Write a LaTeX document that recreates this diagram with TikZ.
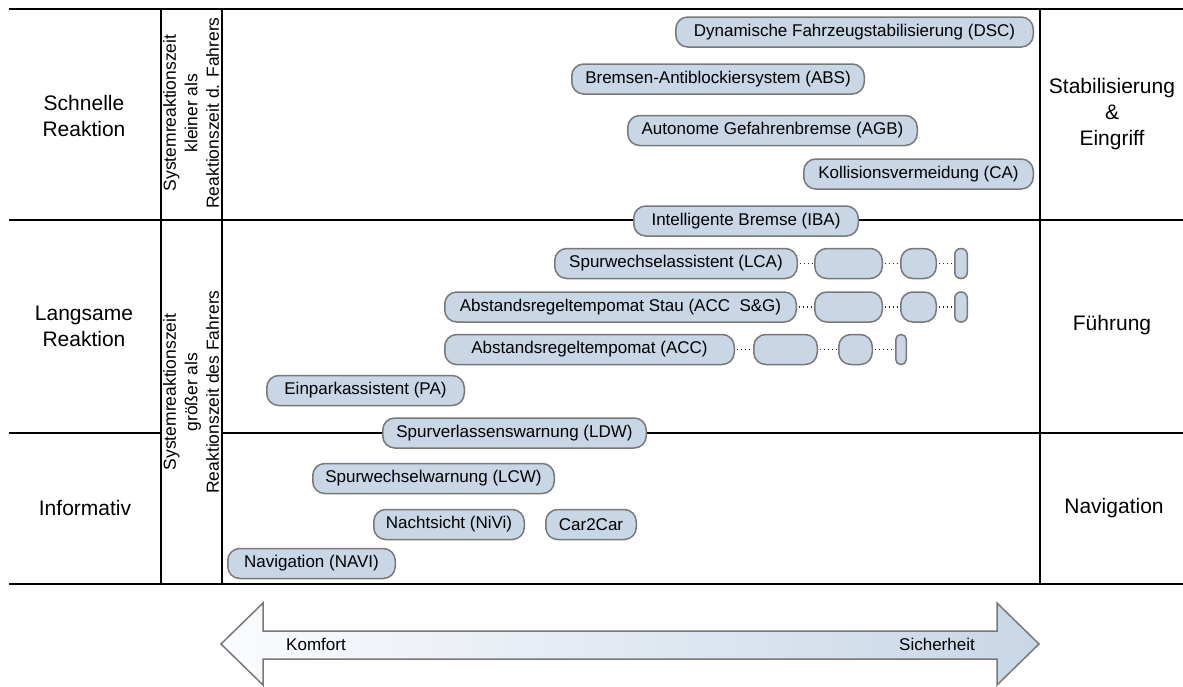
\documentclass[tikz,border=0pt]{standalone}
\usepackage{fontspec}
\setmainfont{Liberation Sans}
\definecolor{boxblue}{RGB}{200,214,230}
\definecolor{boxedge}{RGB}{120,120,120}
\definecolor{arrowleft}{RGB}{250,251,253}
\tikzset{
  gridline/.style={line width=1.3pt, black},
  sys/.style={draw=boxedge, line width=1.5pt, fill=boxblue, rounded corners=12pt,
    minimum height=30pt, inner sep=0pt, font=\fontsize{17}{20}\selectfont},
  sidelabel/.style={align=center, font=\fontsize{21}{26}\selectfont},
  rotlabel/.style={align=center, rotate=90, font=\fontsize{17.5}{21.5}\selectfont},
  dotconn/.style={line width=1.4pt, black!85, dash pattern=on 1.3pt off 2.6pt, shorten <=2pt, shorten >=2pt},
  bigarrow/.style={draw=boxedge, line width=1.5pt, left color=arrowleft, right color=boxblue},
  arrowtext/.style={font=\fontsize{17}{20}\selectfont}
}
\begin{document}
\begin{tikzpicture}[x=1pt,y=-1pt]
\useasboundingbox (0,0) rectangle (1183,686);
% grid
\draw[gridline] (9,9) -- (1183,9);
\draw[gridline] (9,220) -- (1183,220);
\draw[gridline] (9,433) -- (161,433);
\draw[gridline] (222,433) -- (1183,433);
\draw[gridline] (9,584) -- (1183,584);
\draw[gridline] (161,9) -- (161,584);
\draw[gridline] (222,9) -- (222,584);
\draw[gridline] (1040,9) -- (1040,584);
% side labels
\node[sidelabel] (lschnell) at (84,116) {Schnelle\\Reaktion};
\node[sidelabel] (llangsam) at (84,326) {Langsame\\Reaktion};
\node[sidelabel] (linfo) at (85,508) {Informativ};
\node[sidelabel] (rstab) at (1112,114) {Stabilisierung\\\&\\Eingriff};
\node[sidelabel] (rfuehr) at (1112,325) {Führung};
\node[sidelabel] (rnavi) at (1114,508) {Navigation};
\node[rotlabel] (rottop) at (191,113) {Systemreaktionszeit\\kleiner als\\Reaktionszeit d. Fahrers};
\node[rotlabel] (rotbot) at (191,392) {Systemreaktionszeit\\größer als\\Reaktionszeit des Fahrers};
% systems
\node[sys, minimum width=357.5pt] (dsc) at (854.5,32) {Dynamische Fahrzeugstabilisierung (DSC)};
\node[sys, minimum width=292.5pt] (abs) at (718,79) {Bremsen-Antiblockiersystem (ABS)};
\node[sys, minimum width=289.5pt] (agb) at (772.5,130.5) {Autonome Gefahrenbremse (AGB)};
\node[sys, minimum width=229.5pt] (ca) at (918.5,174) {Kollisionsvermeidung (CA)};
\node[sys, minimum width=224.5pt] (iba) at (746,221) {Intelligente Bremse (IBA)};
\node[sys, minimum width=242.5pt] (lca) at (676,263.5) {Spurwechselassistent (LCA)};
\node[sys, minimum width=67.5pt] (lcab) at (848.5,263.5) {};
\node[sys, minimum width=35.5pt] (lcac) at (918.5,263.5) {};
\node[sys, minimum width=12.5pt, rounded corners=6pt] (lcad) at (961,263.5) {};
\node[sys, minimum width=351.5pt] (sg) at (620.5,307) {Abstandsregeltempomat Stau (ACC~~S\&G)};
\node[sys, minimum width=67.5pt] (sgb) at (848.5,307) {};
\node[sys, minimum width=35.5pt] (sgc) at (918.5,307) {};
\node[sys, minimum width=12.5pt, rounded corners=6pt] (sgd) at (961,307) {};
\node[sys, minimum width=289.5pt] (acc) at (589.5,349.5) {Abstandsregeltempomat (ACC)};
\node[sys, minimum width=63.5pt] (accb) at (785.5,349.5) {};
\node[sys, minimum width=33.5pt] (accc) at (855.5,349.5) {};
\node[sys, minimum width=10.5pt, rounded corners=5pt] (accd) at (901,349.5) {};
\node[sys, minimum width=197.5pt] (pa) at (365.5,390.5) {Einparkassistent (PA)};
\node[sys, minimum width=263.5pt] (ldw) at (514.5,433) {Spurverlassenswarnung (LDW)};
\node[sys, minimum width=241.5pt] (lcw) at (433.5,478.5) {Spurwechselwarnung (LCW)};
\node[sys, minimum width=150.5pt] (nivi) at (449,524.5) {Nachtsicht (NiVi)};
\node[sys, minimum width=90.5pt] (c2c) at (591,524.5) {Car2Car};
\node[sys, minimum width=167.5pt] (navi) at (311.5,563.5) {Navigation (NAVI)};
% dotted connectors
\draw[dotconn] (lca.east) -- (lcab.west);
\draw[dotconn] (lcab.east) -- (lcac.west);
\draw[dotconn] (lcac.east) -- (lcad.west);
\draw[dotconn] (sg.east) -- (sgb.west);
\draw[dotconn] (sgb.east) -- (sgc.west);
\draw[dotconn] (sgc.east) -- (sgd.west);
\draw[dotconn] (acc.east) -- (accb.west);
\draw[dotconn] (accb.east) -- (accc.west);
\draw[dotconn] (accc.east) -- (accd.west);
% bottom arrow
\draw[bigarrow] (221,644) -- (263,603) -- (263,631) -- (997,631) -- (997,603)
  -- (1039,644) -- (997,685) -- (997,659) -- (263,659) -- (263,685) -- cycle;
\node[arrowtext] (komfort) at (316,644) {Komfort};
\node[arrowtext] (sicher) at (937,644) {Sicherheit};
\end{tikzpicture}
\end{document}
